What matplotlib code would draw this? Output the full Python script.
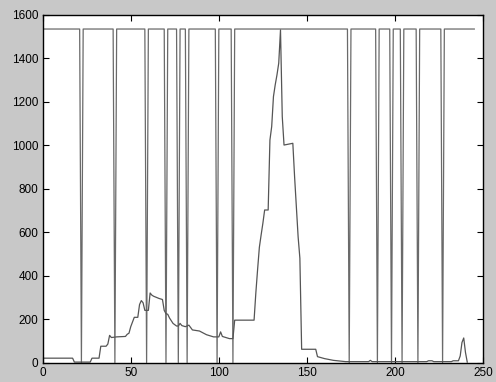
import matplotlib
matplotlib.use("Agg")
import matplotlib.pyplot as plt

# histogram curve as (x, count) breakpoints
hist_x = [1, 17, 18, 27, 28, 32, 33, 36, 37, 38, 39, 42, 47, 48, 49, 50, 52, 54,
          55, 56, 57, 58, 60, 61, 62, 63, 66, 68, 69, 70, 71, 72, 74, 76, 77, 78,
          79, 81, 83, 85, 89, 93, 97, 100, 101, 102, 106, 108, 109, 120, 121, 122,
          123, 124, 125, 126, 128, 129, 130, 131, 132, 133, 134, 135, 136, 137,
          142, 143, 144, 145, 146, 147, 155, 156, 160, 165, 172, 185, 186, 187,
          218, 219, 221, 222, 232, 233, 236, 237, 238, 239, 240, 241]
hist_y = [20, 20, 2, 2, 20, 20, 75, 75, 85, 125, 115, 118, 120, 130, 135, 165, 208, 208,
          267, 285, 275, 240, 240, 320, 310, 305, 295, 290, 240, 225, 222, 205, 180, 168, 168, 180,
          170, 165, 172, 150, 145, 128, 118, 118, 141, 120, 110, 110, 195, 195, 320, 428,
          530, 587, 641, 702, 702, 1024, 1086, 1224, 1278, 1324, 1378, 1531, 1132, 1001,
          1009, 855, 717, 579, 480, 61, 61, 27, 18, 10, 4, 4, 10, 4,
          4, 8, 8, 4, 4, 8, 8, 30, 92, 113, 46, 2]

# threshold positions and the level of the marker line
thresholds = [22, 41, 59, 70, 77, 82, 99, 108, 174, 190, 198, 204, 213, 227]
level = 1535
line_start, line_end = 1, 245

mark_x = [line_start]
mark_y = [level]
for t in thresholds:
    mark_x += [t - 1, t, t + 1]
    mark_y += [level, 0, level]
mark_x.append(line_end)
mark_y.append(level)

plt.rcParams["font.family"] = ["Liberation Sans", "DejaVu Sans"]

fig = plt.figure(figsize=(4.96, 3.82), dpi=100, facecolor="#c8c8c8")
ax = fig.add_axes([0.086, 0.051, 0.888, 0.910])
ax.set_facecolor("white")

ax.plot(mark_x, mark_y, color="#6a6a6a", lw=0.9)
ax.plot(hist_x, hist_y, color="#555555", lw=0.9)

ax.set_xlim(0, 250)
ax.set_ylim(0, 1600)
ax.set_xticks(range(0, 251, 50))
ax.set_yticks(range(0, 1601, 200))
ax.tick_params(direction="in", length=4, width=0.8, top=True, right=True,
               labelsize=8.5, pad=3, colors="black")
for s in ax.spines.values():
    s.set_linewidth(1.0)
    s.set_color("black")

fig.savefig("out.png", dpi=100, facecolor=fig.get_facecolor())
